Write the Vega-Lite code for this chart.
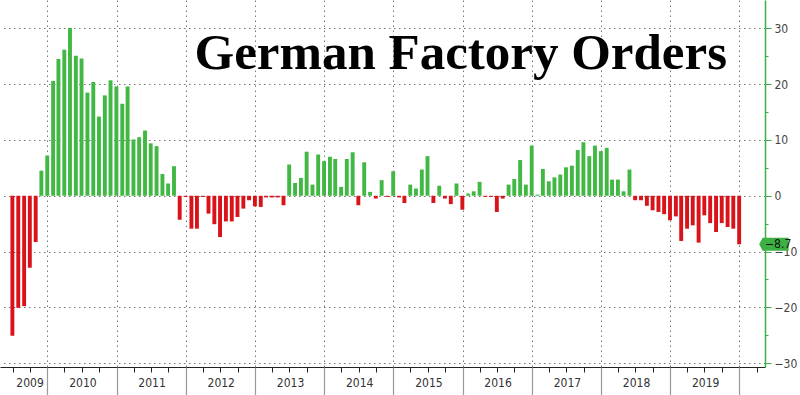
{
  "$schema": "https://vega.github.io/schema/vega-lite/v6.json",
  "width": 765,
  "height": 367,
  "padding": 0,
  "autosize": {"type": "pad"},
  "background": "white",
  "view": {"stroke": null},
  "title": {
    "text": "German Factory Orders",
    "font": "Liberation Serif",
    "fontSize": 51,
    "fontWeight": "bold",
    "color": "#000000",
    "anchor": "end",
    "frame": "group",
    "orient": "top",
    "baseline": "alphabetic",
    "offset": -120,
    "dx": -38
  },
  "data": {
    "values": [
      {"month": "2009-06-30", "value": -25.1},
      {"month": "2009-07-31", "value": -20.1},
      {"month": "2009-08-31", "value": -19.8},
      {"month": "2009-09-30", "value": -12.9},
      {"month": "2009-10-31", "value": -8.3},
      {"month": "2009-11-30", "value": 4.5},
      {"month": "2009-12-31", "value": 7.2},
      {"month": "2010-01-31", "value": 20.6},
      {"month": "2010-02-28", "value": 24.5},
      {"month": "2010-03-31", "value": 26.2},
      {"month": "2010-04-30", "value": 30.1},
      {"month": "2010-05-31", "value": 25.1},
      {"month": "2010-06-30", "value": 24.6},
      {"month": "2010-07-31", "value": 18.5},
      {"month": "2010-08-31", "value": 20.4},
      {"month": "2010-09-30", "value": 14.2},
      {"month": "2010-10-31", "value": 18.0},
      {"month": "2010-11-30", "value": 20.7},
      {"month": "2010-12-31", "value": 19.6},
      {"month": "2011-01-31", "value": 16.5},
      {"month": "2011-02-28", "value": 19.6},
      {"month": "2011-03-31", "value": 10.1},
      {"month": "2011-04-30", "value": 10.5},
      {"month": "2011-05-31", "value": 11.7},
      {"month": "2011-06-30", "value": 9.4},
      {"month": "2011-07-31", "value": 8.9},
      {"month": "2011-08-31", "value": 3.9},
      {"month": "2011-09-30", "value": 2.2},
      {"month": "2011-10-31", "value": 5.3},
      {"month": "2011-11-30", "value": -4.3},
      {"month": "2011-12-31", "value": -0.2},
      {"month": "2012-01-31", "value": -5.9},
      {"month": "2012-02-29", "value": -5.9},
      {"month": "2012-03-31", "value": -0.2},
      {"month": "2012-04-30", "value": -3.2},
      {"month": "2012-05-31", "value": -5.1},
      {"month": "2012-06-30", "value": -7.4},
      {"month": "2012-07-31", "value": -4.6},
      {"month": "2012-08-31", "value": -4.6},
      {"month": "2012-09-30", "value": -3.8},
      {"month": "2012-10-31", "value": -2.3},
      {"month": "2012-11-30", "value": -0.8},
      {"month": "2012-12-31", "value": -1.9},
      {"month": "2013-01-31", "value": -2.0},
      {"month": "2013-02-28", "value": -0.3},
      {"month": "2013-03-31", "value": -0.3},
      {"month": "2013-04-30", "value": -0.3},
      {"month": "2013-05-31", "value": -1.7},
      {"month": "2013-06-30", "value": 5.6},
      {"month": "2013-07-31", "value": 2.3},
      {"month": "2013-08-31", "value": 3.2},
      {"month": "2013-09-30", "value": 7.9},
      {"month": "2013-10-31", "value": 2.0},
      {"month": "2013-11-30", "value": 7.4},
      {"month": "2013-12-31", "value": 6.2},
      {"month": "2014-01-31", "value": 7.0},
      {"month": "2014-02-28", "value": 6.6},
      {"month": "2014-03-31", "value": 1.6},
      {"month": "2014-04-30", "value": 6.6},
      {"month": "2014-05-31", "value": 7.8},
      {"month": "2014-06-30", "value": -1.7},
      {"month": "2014-07-31", "value": 6.0},
      {"month": "2014-08-31", "value": 0.7},
      {"month": "2014-09-30", "value": -0.5},
      {"month": "2014-10-31", "value": 2.8},
      {"month": "2014-11-30", "value": -0.2},
      {"month": "2014-12-31", "value": 4.4},
      {"month": "2015-01-31", "value": -0.3},
      {"month": "2015-02-28", "value": -1.3},
      {"month": "2015-03-31", "value": 2.0},
      {"month": "2015-04-30", "value": 1.3},
      {"month": "2015-05-31", "value": 4.7},
      {"month": "2015-06-30", "value": 7.1},
      {"month": "2015-07-31", "value": -1.3},
      {"month": "2015-08-31", "value": 1.8},
      {"month": "2015-09-30", "value": -0.5},
      {"month": "2015-10-31", "value": -1.5},
      {"month": "2015-11-30", "value": 2.2},
      {"month": "2015-12-31", "value": -2.5},
      {"month": "2016-01-31", "value": 0.4},
      {"month": "2016-02-29", "value": 0.8},
      {"month": "2016-03-31", "value": 2.5},
      {"month": "2016-04-30", "value": -0.2},
      {"month": "2016-05-31", "value": -0.2},
      {"month": "2016-06-30", "value": -2.9},
      {"month": "2016-07-31", "value": -0.5},
      {"month": "2016-08-31", "value": 2.0},
      {"month": "2016-09-30", "value": 3.0},
      {"month": "2016-10-31", "value": 6.4},
      {"month": "2016-11-30", "value": 2.0},
      {"month": "2016-12-31", "value": 9.0},
      {"month": "2017-01-31", "value": 0.2},
      {"month": "2017-02-28", "value": 4.8},
      {"month": "2017-03-31", "value": 2.6},
      {"month": "2017-04-30", "value": 3.3},
      {"month": "2017-05-31", "value": 3.8},
      {"month": "2017-06-30", "value": 5.1},
      {"month": "2017-07-31", "value": 5.4},
      {"month": "2017-08-31", "value": 8.2},
      {"month": "2017-09-30", "value": 9.6},
      {"month": "2017-10-31", "value": 7.1},
      {"month": "2017-11-30", "value": 9.0},
      {"month": "2017-12-31", "value": 8.0},
      {"month": "2018-01-31", "value": 8.6},
      {"month": "2018-02-28", "value": 2.9},
      {"month": "2018-03-31", "value": 2.9},
      {"month": "2018-04-30", "value": 0.8},
      {"month": "2018-05-31", "value": 4.7},
      {"month": "2018-06-30", "value": -0.8},
      {"month": "2018-07-31", "value": -0.8},
      {"month": "2018-08-31", "value": -1.8},
      {"month": "2018-09-30", "value": -2.6},
      {"month": "2018-10-31", "value": -2.9},
      {"month": "2018-11-30", "value": -3.3},
      {"month": "2018-12-31", "value": -4.4},
      {"month": "2019-01-31", "value": -3.7},
      {"month": "2019-02-28", "value": -8.1},
      {"month": "2019-03-31", "value": -5.9},
      {"month": "2019-04-30", "value": -5.3},
      {"month": "2019-05-31", "value": -8.4},
      {"month": "2019-06-30", "value": -3.5},
      {"month": "2019-07-31", "value": -4.9},
      {"month": "2019-08-31", "value": -6.5},
      {"month": "2019-09-30", "value": -4.9},
      {"month": "2019-10-31", "value": -5.6},
      {"month": "2019-11-30", "value": -5.9},
      {"month": "2019-12-31", "value": -8.7}
    ]
  },
  "resolve": {"axis": {"x": "independent", "y": "independent"}},
  "layer": [
    {
      "mark": {"type": "bar", "width": 3.9},
      "encoding": {
        "x": {
          "field": "month",
          "type": "temporal",
          "scale": {
            "type": "utc",
            "domain": [
              {"year": 2009, "month": 5, "date": 22, "utc": true},
              {"year": 2020, "month": 4, "date": 19, "utc": true}
            ]
          },
          "axis": {
            "orient": "bottom",
            "title": null,
            "grid": false,
            "tickCount": {"interval": "month", "step": 3},
            "tickSize": 5,
            "tickColor": "#222222",
            "domain": true,
            "domainColor": "#222222",
            "labelExpr": "utcyear(datum.value) == 2009 && utcmonth(datum.value) == 6 ? '2009' : ''",
            "labelOffset": 17,
            "labelPadding": 5,
            "labelFlush": false,
            "labelBound": false,
            "labelOverlap": false,
            "labelAlign": "center",
            "labelBaseline": "top",
            "labelFont": "Liberation Sans Narrow, DejaVu Sans Condensed, sans-serif",
            "labelFontSize": 12,
            "labelColor": "#333333"
          }
        },
        "y": {
          "field": "value",
          "type": "quantitative",
          "scale": {"domain": [-30.7, 35.1], "nice": false, "zero": false},
          "axis": {
            "orient": "right",
            "title": null,
            "values": [-30, -25, -20, -15, -10, -5, 0, 5, 10, 15, 20, 25, 30],
            "grid": true,
            "gridColor": "#777777",
            "gridDash": [1.5, 3.5],
            "gridOpacity": {"condition": {"test": "datum.value % 10 === 0", "value": 1}, "value": 0},
            "labelOpacity": {"condition": {"test": "datum.value % 10 === 0", "value": 1}, "value": 0},
            "domain": true,
            "domainColor": "#3cb043",
            "domainWidth": 1.5,
            "tickColor": "#3cb043",
            "tickSize": {"condition": {"test": "datum.value % 10 === 0", "value": 6}, "value": 3},
            "labelPadding": 3,
            "labelFont": "Liberation Sans Narrow, DejaVu Sans Condensed, sans-serif",
            "labelFontSize": 12,
            "labelColor": "#444444",
            "labelOverlap": false,
            "labelFlush": false
          }
        },
        "color": {
          "condition": {"test": "datum.value >= 0", "value": "#41b843"},
          "value": "#d9131a"
        }
      }
    },
    {
      "transform": [{"filter": "utcyear(datum.month) == 2019 && utcmonth(datum.month) == 11"}],
      "mark": {
        "type": "point",
        "shape": "M1.54,0 L1.8,-0.5 L3.8,-0.5 L3.8,0.5 L1.8,0.5 Z",
        "size": 676,
        "filled": true,
        "color": "#3cb043",
        "opacity": 1
      },
      "encoding": {
        "x": {"field": "month", "type": "temporal", "axis": null},
        "y": {"field": "value", "type": "quantitative", "axis": null}
      }
    },
    {
      "transform": [{"filter": "utcyear(datum.month) == 2019 && utcmonth(datum.month) == 11"}],
      "mark": {
        "type": "text",
        "dx": 39,
        "align": "center",
        "baseline": "middle",
        "font": "Liberation Sans Narrow, DejaVu Sans Condensed, sans-serif",
        "fontSize": 12,
        "color": "#111111"
      },
      "encoding": {
        "x": {
          "field": "month",
          "type": "temporal",
          "axis": {
            "orient": "bottom",
            "title": null,
            "domain": false,
            "grid": true,
            "gridColor": "#777777",
            "gridDash": [1.5, 3.5],
            "tickCount": {"interval": "year", "step": 1},
            "tickSize": 30,
            "tickColor": "#999999",
            "tickWidth": 1.2,
            "labelExpr": "utcyear(datum.value) < 2020 ? utcFormat(datum.value, '%Y') : ''",
            "labelOffset": 35,
            "labelPadding": -20,
            "labelFlush": false,
            "labelBound": false,
            "labelOverlap": false,
            "labelAlign": "center",
            "labelBaseline": "top",
            "labelFont": "Liberation Sans Narrow, DejaVu Sans Condensed, sans-serif",
            "labelFontSize": 12,
            "labelColor": "#333333"
          }
        },
        "y": {"field": "value", "type": "quantitative", "axis": null},
        "text": {"field": "value", "type": "quantitative", "format": ".1f"}
      }
    }
  ]
}
